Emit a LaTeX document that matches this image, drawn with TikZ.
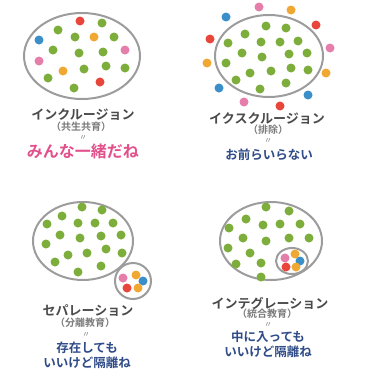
\documentclass[tikz,border=0pt]{standalone}
\usepackage{fontspec}
\newfontfamily\jp{Noto Sans CJK JP}
\newfontfamily\jpb{Noto Sans CJK JP Bold}
\definecolor{dgreen}{HTML}{7DAE3C}
\definecolor{dred}{HTML}{E8463A}
\definecolor{dorange}{HTML}{F0A832}
\definecolor{dblue}{HTML}{3A8FC8}
\definecolor{dpink}{HTML}{E67EAC}
\definecolor{rim}{HTML}{9C9C9C}
\definecolor{head}{HTML}{4A4A4A}
\definecolor{sub}{HTML}{7A7A7A}
\definecolor{navy}{HTML}{2F4C88}
\definecolor{rose}{HTML}{E2508C}
\tikzset{
  ring/.style={draw=rim, line width=2pt},
  title/.style={font=\jpb\fontsize{13}{14}\selectfont, text=head, inner sep=0pt},
  kakko/.style={font=\jpb\fontsize{10}{11}\selectfont, text=sub, inner sep=0pt},
  eq/.style={font=\jp\fontsize{8}{9}\selectfont, text=sub, inner sep=0pt},
  motto/.style={font=\jpb\fontsize{12.5}{15}\selectfont, text=navy, inner sep=0pt, align=center},
}
\begin{document}
\begin{tikzpicture}[x=1pt, y=-1pt]
  \useasboundingbox (0,0) rectangle (366,372);
  \def\rr{4.5}
  %tikz  inclusion, top left
    \draw[ring] (82,56) ellipse (58 and 43);
    \foreach \p in {(102,23),(58,30),(75,37),(114,37),(53,50),(79,53),(103,52),(106,66),(125,68),(84,69),(48,78),(74,88)}
      \fill[dgreen] \p circle (\rr);
    \fill[dred] (80,21) circle (\rr);
    \fill[dred] (100,82) circle (\rr);
    \fill[dorange] (94,37) circle (\rr);
    \fill[dorange] (63,71) circle (\rr);
    \fill[dblue] (39,40) circle (\rr);
    \fill[dpink] (125,50) circle (\rr);
    \fill[dpink] (39,61) circle (\rr);
    \node[title] (inc) at (83,115) {インクルージョン};
    \node[kakko] (incsub) at (81,127) {（共生共育）};
    \node[eq] (inceq) at (83,138) {〃};
    \node[motto, text=rose, font=\jpb\fontsize{16}{17}\selectfont] (incmotto) at (83,151) {みんな一緒だね};
  %tikz  exclusion, top right
    \draw[ring] (269,56) ellipse (54 and 41);
    \foreach \p in {(266,26),(286,28),(245,34),(228,43),(261,42),(280,42),(298,41),(242,53),(262,57),(289,54),(307,53),(226,63),(250,73),(271,71),(291,68),(308,70),(236,80),(260,89),(286,83)}
      \fill[dgreen] \p circle (\rr);
    \fill[dpink] (259,7) circle (\rr);
    \fill[dorange] (291,10) circle (\rr);
    \fill[dblue] (226,17) circle (\rr);
    \fill[dred] (316,25) circle (\rr);
    \fill[dred] (210,39) circle (\rr);
    \fill[dpink] (330,48) circle (\rr);
    \fill[dorange] (207,63) circle (\rr);
    \fill[dorange] (326,73) circle (\rr);
    \fill[dblue] (219,88) circle (\rr);
    \fill[dblue] (308,95) circle (\rr);
    \fill[dpink] (244,102) circle (\rr);
    \fill[dred] (280,106) circle (\rr);
    \node[title] (exc) at (267,119) {イクスクルージョン};
    \node[kakko] (excsub) at (268,130) {（排除）};
    \node[eq] (exceq) at (268,141) {〃};
    \node[motto] (excmotto) at (269,155) {お前らいらない};
  %tikz  separation, bottom left
    \draw[ring] (83,241) ellipse (50 and 39);
    \draw[ring] (133,281) circle (18);
    \foreach \p in {(82,207),(102,210),(62,216),(47,224),(78,223),(95,223),(113,223),(60,235),(80,238),(101,236),(121,235),(46,244),(68,255),(87,253),(106,249),(122,253),(55,262),(78,272),(101,266)}
      \fill[dgreen] \p circle (\rr);
    \fill[dpink] (123,278) circle (\rr);
    \fill[dorange] (136,275) circle (\rr);
    \fill[dblue] (143,281) circle (\rr);
    \fill[dred] (127,288) circle (\rr);
    \fill[dorange] (138,288) circle (\rr);
    \node[title] (sep) at (88,311) {セパレーション};
    \node[kakko] (sepsub) at (85,323) {（分離教育）};
    \node[eq] (sepeq) at (86,335) {〃};
    \node[motto] (sepmotto) at (87,355) {存在しても\\いいけど隔離ね};
  %tikz  integration, bottom right
    \draw[ring] (271,241) ellipse (51 and 39);
    \draw[ring] (292,261) ellipse (16 and 13);
    \foreach \p in {(266,207),(289,211),(246,219),(229,228),(263,225),(280,224),(300,224),(243,238),(266,241),(289,238),(309,238),(228,248),(250,253),(236,264),(261,263),(261,277)}
      \fill[dgreen] \p circle (\rr);
    \fill[dpink] (285,258) circle (\rr);
    \fill[dorange] (295,254) circle (\rr);
    \fill[dblue] (300,261) circle (\rr);
    \fill[dred] (286,267) circle (\rr);
    \fill[dorange] (296,267) circle (\rr);
    \node[title] (integ) at (270,303) {インテグレーション};
    \node[kakko] (integsub) at (267,314) {（統合教育）};
    \node[eq] (integeq) at (268,325) {〃};
    \node[motto] (integmotto) at (268,344) {中に入っても\\いいけど隔離ね};
\end{tikzpicture}
\end{document}
